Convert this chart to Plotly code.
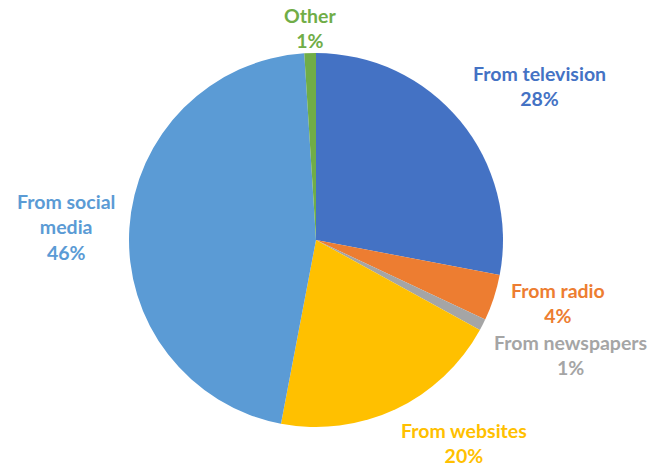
import math
import plotly.graph_objects as go

# Where people get their news
categories = ["From television", "From radio", "From newspapers",
              "From websites", "From social media", "Other"]
label_text = ["From television", "From radio", "From newspapers",
              "From websites", "From social<br>media", "Other"]
shares = [28, 4, 1, 20, 46, 1]
colors = ["#4472C4", "#ED7D31", "#A5A5A5", "#FFC000", "#5B9BD5", "#70AD47"]

W, H = 650, 469
cx, cy, r = 316, 240, 187          # pie centre / radius in pixels
dom_x = [(cx - r) / W, (cx + r) / W]
dom_y = [(H - cy - r) / H, (H - cy + r) / H]

fig = go.Figure(go.Pie(
    labels=categories,
    values=shares,
    sort=False,
    direction="clockwise",
    rotation=0,
    marker=dict(colors=colors, line=dict(width=0)),
    textinfo="none",
    hoverinfo="label+percent",
    domain=dict(x=dom_x, y=dom_y),
    showlegend=False,
))

# label distance from the centre, as a multiple of the radius
label_gap = [1.08, 1.09, 1.06, 1.05, 1.07, 1.00]

total = sum(shares)
start = 0.0
annotations = []
for name, val, col, gap in zip(label_text, shares, colors, label_gap):
    mid = (start + val / 2) / total * 2 * math.pi
    start += val
    sx, cy_dir = math.sin(mid), math.cos(mid)
    px = cx + gap * r * sx
    py = cy - gap * r * cy_dir
    xanchor = "left" if sx > 0.4 else ("right" if sx < -0.4 else "center")
    yanchor = "bottom" if cy_dir > 0.4 else ("top" if cy_dir < -0.4 else "middle")
    annotations.append(dict(
        x=px / W, y=1 - py / H, xref="paper", yref="paper",
        text=f"<b>{name}<br>{val}%</b>",
        showarrow=False, xanchor=xanchor, yanchor=yanchor,
        align="center", borderpad=0,
        font=dict(family="Lato, 'Open Sans', sans-serif", size=19.5, color=col),
    ))

fig.update_layout(
    width=W, height=H,
    margin=dict(l=0, r=0, t=0, b=0),
    paper_bgcolor="white",
    plot_bgcolor="white",
    annotations=annotations,
)

fig.write_html("out.html")
